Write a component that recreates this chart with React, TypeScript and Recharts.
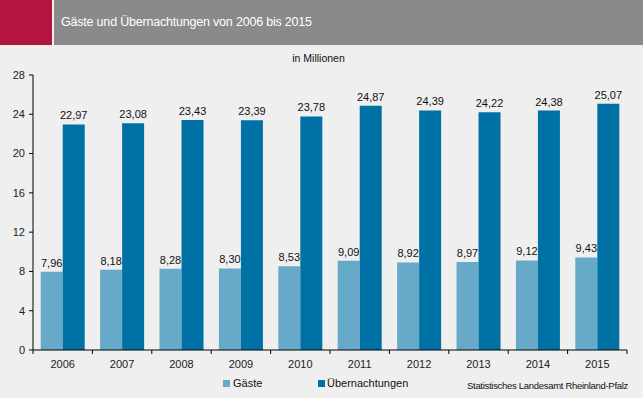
import React from 'react';
import { BarChart, Bar, XAxis, YAxis, LabelList } from 'recharts';

const years = ['2006', '2007', '2008', '2009', '2010', '2011', '2012', '2013', '2014', '2015'];
const gaeste = [7.96, 8.18, 8.28, 8.3, 8.53, 9.09, 8.92, 8.97, 9.12, 9.43];
const uebernachtungen = [22.97, 23.08, 23.43, 23.39, 23.78, 24.87, 24.39, 24.22, 24.38, 25.07];
const yTicks = [0, 4, 8, 12, 16, 20, 24, 28];

const data = years.map((y, i) => ({ year: y, g: gaeste[i], u: uebernachtungen[i] }));

const FONT = '"Liberation Sans", Arial, sans-serif';
const C_G = '#67a9c8';
const C_U = '#0071a4';
const BG = '#eeefee';

const fmt = (v: any) => Number(v).toFixed(2).replace('.', ',');

const XTick = (props: any) => {
  const { x, y, payload, index, visibleTicksCount } = props;
  const half = 29.7;
  const top = y - 8;
  return (
    <g>
      <line x1={x - half} x2={x - half} y1={top} y2={top + 4} stroke="#000" />
      {index === (visibleTicksCount ?? 10) - 1 && (
        <line x1={x + half} x2={x + half} y1={top} y2={top + 4} stroke="#000" />
      )}
      <text x={x} y={y + 10} textAnchor="middle" fontSize={11} fill="#222" fontFamily={FONT}>
        {payload.value}
      </text>
    </g>
  );
};

export default function App() {
  return (
    <div style={{ position: 'fixed', left: 0, top: 0, width: 643, height: 398, background: BG, fontFamily: FONT, overflow: 'hidden' }}>
      <div style={{ position: 'absolute', left: 0, top: 0, width: 52, height: 45, background: '#b41540' }} />
      <div style={{ position: 'absolute', left: 54, top: 0, width: 589, height: 45, background: '#8a8a8a' }} />
      <div style={{ position: 'absolute', left: 61, top: 14, color: '#fff', fontSize: 12.5, lineHeight: '16px', letterSpacing: -0.2 }}>
        Gäste und Übernachtungen von 2006 bis 2015
      </div>
      <div style={{ position: 'absolute', left: 0, width: 643, top: 52, textAlign: 'center', fontSize: 10.5, color: '#111', lineHeight: '13px' }}>
        <span style={{ position: 'relative', left: -3 }}>in Millionen</span>
      </div>
      <div style={{ position: 'absolute', left: 0, top: 0 }}>
        <BarChart
          width={643}
          height={398}
          data={data}
          margin={{ top: 75, right: 16, bottom: 28, left: 3 }}
          barGap={0}
          barCategoryGap="13%"
        >
          <XAxis
            dataKey="year"
            axisLine={{ stroke: '#000' }}
            tickLine={false}
            tickSize={4}
            tickMargin={4}
            height={20}
            tick={<XTick />}
            interval={0}
          />
          <YAxis
            domain={[0, 28]}
            ticks={yTicks}
            width={30}
            axisLine={{ stroke: '#000' }}
            tickLine={{ stroke: '#000' }}
            tickSize={4}
            tickMargin={4}
            tick={{ fontSize: 11, fill: '#222', fontFamily: FONT }}
            interval={0}
          />
          <Bar dataKey="g" fill={C_G} isAnimationActive={false}>
            <LabelList dataKey="g" position="top" offset={5} formatter={fmt} style={{ fontSize: 11, fill: '#111', fontFamily: FONT }} />
          </Bar>
          <Bar dataKey="u" fill={C_U} isAnimationActive={false}>
            <LabelList dataKey="u" position="top" offset={5} formatter={fmt} style={{ fontSize: 11, fill: '#111', fontFamily: FONT }} />
          </Bar>
        </BarChart>
      </div>
      <div style={{ position: 'absolute', left: 223, top: 377, display: 'flex', alignItems: 'center', fontSize: 11, color: '#111' }}>
        <span style={{ width: 7, height: 7, background: C_G, display: 'inline-block', marginRight: 3 }} />
        <span>Gäste</span>
      </div>
      <div style={{ position: 'absolute', left: 318, top: 377, display: 'flex', alignItems: 'center', fontSize: 11, color: '#111' }}>
        <span style={{ width: 7, height: 7, background: C_U, display: 'inline-block', marginRight: 2 }} />
        <span>Übernachtungen</span>
      </div>
      <div style={{ position: 'absolute', right: 15, top: 380, fontSize: 9.5, color: '#111', letterSpacing: -0.3 }}>
        Statistisches Landesamt Rheinland-Pfalz
      </div>
    </div>
  );
}
